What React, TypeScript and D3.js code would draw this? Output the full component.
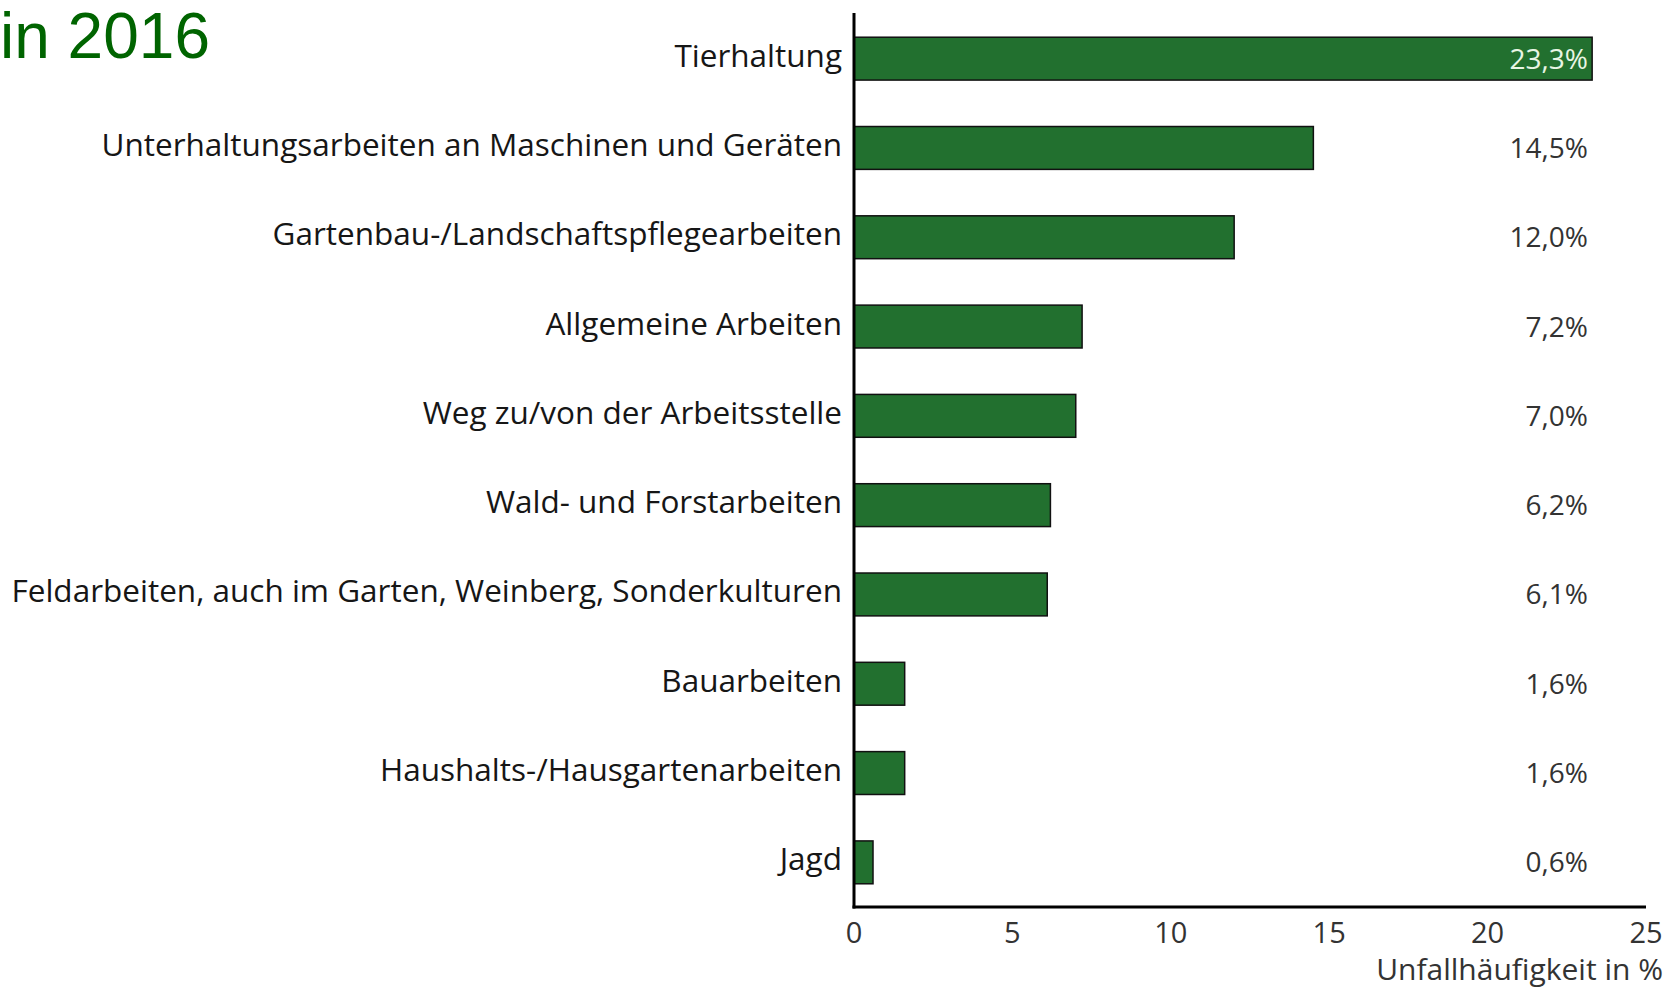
import React from "react";
import * as d3 from "d3";

const categories = [
  "Tierhaltung",
  "Unterhaltungsarbeiten an Maschinen und Geräten",
  "Gartenbau-/Landschaftspflegearbeiten",
  "Allgemeine Arbeiten",
  "Weg zu/von der Arbeitsstelle",
  "Wald- und Forstarbeiten",
  "Feldarbeiten, auch im Garten, Weinberg, Sonderkulturen",
  "Bauarbeiten",
  "Haushalts-/Hausgartenarbeiten",
  "Jagd",
];
const values = [23.3, 14.5, 12.0, 7.2, 7.0, 6.2, 6.1, 1.6, 1.6, 0.6];
const xTicks = [0, 5, 10, 15, 20, 25];
const title = "in 2016";
const xTitle = "Unfallhäufigkeit in %";

const width = 1667;
const height = 990;
const margin = { left: 854, right: 21, top: 14, bottom: 83 };

const de = d3.formatLocale({ decimal: ",", thousands: ".", grouping: [3], currency: ["", " €"] });
const fmt = de.format(".1f");

const font = "'Open Sans', 'Noto Sans', sans-serif";

export default function App() {
  const x = d3.scaleLinear().domain([0, 25]).range([margin.left, width - margin.right]);
  const y = d3
    .scaleBand<string>()
    .domain(categories)
    .range([margin.top, height - margin.bottom])
    .paddingInner(0.52)
    .paddingOuter(0.26);

  const bw = y.bandwidth();
  const axisY = height - margin.bottom;

  return (
    <svg
      width={width}
      height={height}
      style={{ position: "absolute", left: 0, top: 0, background: "#fff" }}
    >
      <text x={0} y={58} fill="#006400" fontSize={64} fontFamily="'Liberation Sans', Arial, sans-serif">
        {title}
      </text>

      {/* bars */}
      <g>
        {categories.map((c, i) => (
          <rect
            key={c}
            x={x(0)}
            y={y(c)}
            width={x(values[i]) - x(0)}
            height={bw}
            fill="#22702f"
            stroke="#111"
            strokeWidth={1.5}
          />
        ))}
      </g>

      {/* category labels */}
      <g fontFamily={font} fontSize={31.5} fill="#161616" textAnchor="end">
        {categories.map((c) => (
          <text key={c} x={x(0) - 12} y={(y(c) as number) + bw / 2 + 8}>
            {c}
          </text>
        ))}
      </g>

      {/* value labels */}
      <g fontFamily={font} fontSize={28} textAnchor="end">
        {categories.map((c, i) => (
          <text
            key={c}
            x={1588}
            y={(y(c) as number) + bw / 2 + 10}
            fill={i === 0 ? "#e8f5e4" : "#333"}
          >
            {fmt(values[i]) + "%"}
          </text>
        ))}
      </g>

      {/* axes */}
      <line x1={x(0)} x2={x(0)} y1={margin.top - 1} y2={axisY + 1.5} stroke="#000" strokeWidth={3} />
      <line x1={x(0) - 1.5} x2={x(25)} y1={axisY} y2={axisY} stroke="#000" strokeWidth={3} />

      <g fontFamily={font} fontSize={29} fill="#333" textAnchor="middle">
        {xTicks.map((t) => (
          <text key={t} x={x(t)} y={axisY + 36}>
            {t}
          </text>
        ))}
      </g>
      <text
        x={width - 4}
        y={980}
        textAnchor="end"
        fontFamily={font}
        fontSize={30}
        fill="#333"
      >
        {xTitle}
      </text>
    </svg>
  );
}
